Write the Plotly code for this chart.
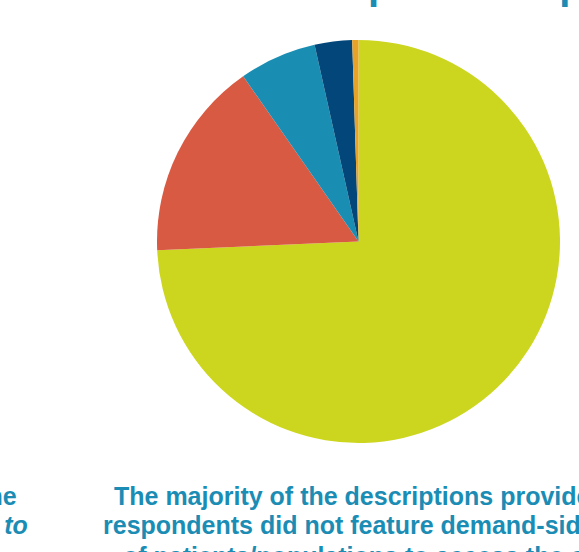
import plotly.graph_objects as go

# Share of descriptions by category (percent)
categories = [
    "No demand-side ability",
    "One ability",
    "Two abilities",
    "Three abilities",
    "Four or more abilities",
]
shares = [74.3, 16.0, 6.2, 3.0, 0.5]
slice_colors = ["#CDD61F", "#D95A43", "#1A8DB3", "#03477A", "#E8A227"]

title_text = "Abilities assessed per description"
left_lines = ["Few descriptions addressed the", "<i>ability to</i>"]
right_lines = [
    "The majority of the descriptions provided by",
    "respondents did not feature demand-side abilities",
    "of patients/populations to access the care",
]

W, H = 579, 552
TEAL = "#1B8DB4"
FONT = "Liberation Sans, Arial, Helvetica, sans-serif"
CAPTION_SIZE = 25


def px_x(x):
    return x / W


def px_y(y):
    return 1 - y / H


fig = go.Figure(
    go.Pie(
        labels=categories,
        values=shares,
        marker=dict(colors=slice_colors, line=dict(width=0)),
        sort=False,
        direction="clockwise",
        rotation=0,
        textinfo="none",
        hoverinfo="label+percent",
        showlegend=False,
        domain=dict(x=[px_x(157), px_x(560)], y=[px_y(443), px_y(40)]),
    )
)

annotations = []

# Slide title running off the top edge
annotations.append(dict(
    text=title_text, xref="paper", yref="paper",
    x=px_x(8), y=px_y(-15), xanchor="left", yanchor="middle",
    showarrow=False,
    font=dict(family=FONT, size=40, color=TEAL, weight="bold"),
))

# Left caption column (right-aligned lines)
for line, xr, yc in zip(left_lines, [19, 30], [496, 524.5]):
    annotations.append(dict(
        text=line, xref="paper", yref="paper",
        x=px_x(xr), y=px_y(yc), xanchor="right", yanchor="middle",
        showarrow=False,
        font=dict(family=FONT, size=CAPTION_SIZE, color=TEAL, weight="bold"),
    ))

# Right caption column
for line, xl, yc in zip(right_lines, [112, 101, 121], [496, 524.5, 556]):
    annotations.append(dict(
        text=line, xref="paper", yref="paper",
        x=px_x(xl), y=px_y(yc), xanchor="left", yanchor="middle",
        showarrow=False,
        font=dict(family=FONT, size=CAPTION_SIZE, color=TEAL, weight="bold"),
    ))

fig.update_layout(
    width=W, height=H,
    margin=dict(l=0, r=0, t=0, b=0),
    paper_bgcolor="white",
    plot_bgcolor="white",
    annotations=annotations,
)

fig.write_html("out.html")
